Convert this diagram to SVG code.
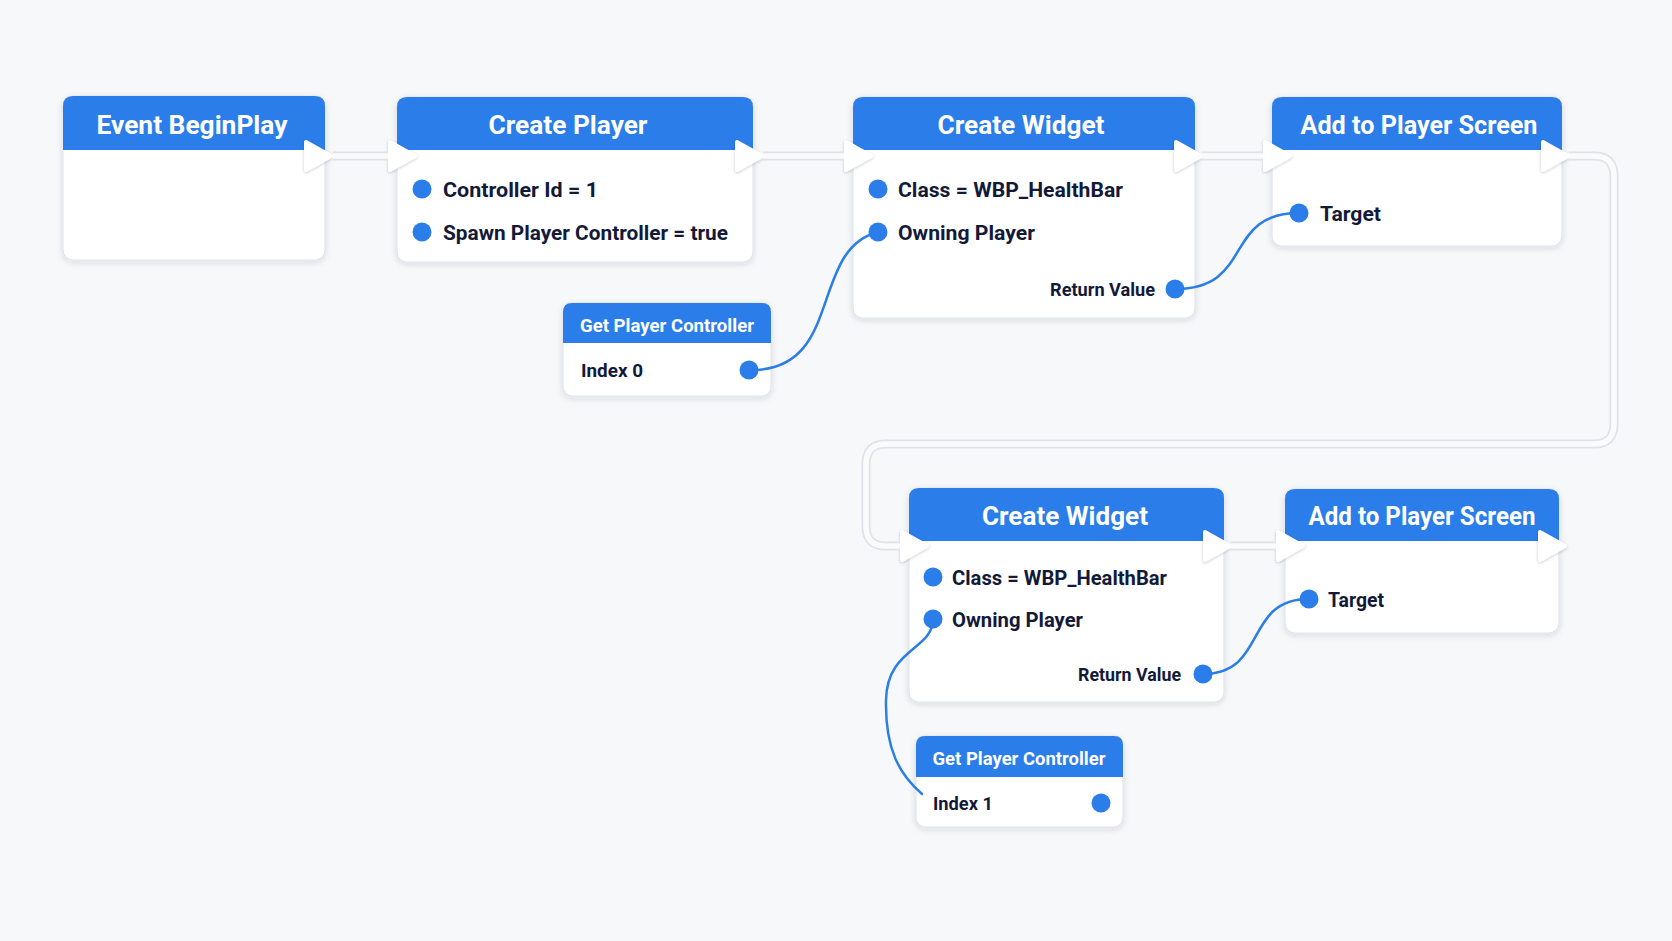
<svg xmlns="http://www.w3.org/2000/svg" xmlns:xlink="http://www.w3.org/1999/xlink" width="1672" height="941" viewBox="0 0 1672 941">
<style>
.body{fill:#ffffff;stroke:#e1e4ea;stroke-width:1.2}
.head{fill:#2b7de9}
.title{font-family:Roboto,"Liberation Sans",sans-serif;font-weight:700;fill:#ffffff;text-anchor:middle}
.t1{font-size:26px}
.t2{font-size:19px}
.lbl{font-family:Roboto,"Liberation Sans",sans-serif;font-weight:700;fill:#131a38;font-size:20.5px}
.sm{font-size:18.5px}
.pin{fill:#2b7de9}
.exec{fill:#ffffff;stroke:#ffffff;stroke-width:4;stroke-linejoin:round}
.wire{fill:none;stroke:#2b7de9;stroke-width:2.5;stroke-linecap:round}
.eo{fill:none;stroke:#dfe2e8;stroke-width:9;stroke-linecap:butt;stroke-linejoin:round}
.ei{fill:none;stroke:#fbfbfc;stroke-width:5.5;stroke-linecap:butt;stroke-linejoin:round}
</style>
<defs>
<filter id="sh" x="-10%" y="-10%" width="120%" height="130%">
<feDropShadow dx="0" dy="2" stdDeviation="3" flood-color="#1b2a4a" flood-opacity="0.13"/>
</filter>
<filter id="tsh" x="-40%" y="-40%" width="180%" height="180%">
<feDropShadow dx="0" dy="1" stdDeviation="1.5" flood-color="#1b2a4a" flood-opacity="0.22"/>
</filter>
<path id="ex" d="M0,-14 L25,0 L0,14 Z"/>
</defs>
<rect x="0" y="0" width="1672" height="941" fill="#f7f8fa"/>

<g id="node-event-beginplay">
<rect class="body" x="63" y="96" width="262" height="164" rx="10" filter="url(#sh)"/>
<path class="head" d="M63,150 V106 Q63,96 73,96 H315 Q325,96 325,106 V150 Z"/>
<text class="title t1" x="192" y="133.5" textLength="191" lengthAdjust="spacingAndGlyphs">Event BeginPlay</text>
<use href="#ex" class="exec" x="306" y="156" filter="url(#tsh)"/>
</g>

<g id="node-create-player">
<rect class="body" x="397" y="97" width="356" height="165" rx="10" filter="url(#sh)"/>
<path class="head" d="M397,150 V107 Q397,97 407,97 H743 Q753,97 753,107 V150 Z"/>
<text class="title t1" x="568" y="134" textLength="159" lengthAdjust="spacingAndGlyphs">Create Player</text>
<use href="#ex" class="exec" x="390" y="156" filter="url(#tsh)"/>
<use href="#ex" class="exec" x="737" y="156" filter="url(#tsh)"/>
<circle class="pin" cx="422" cy="189" r="9.5"/>
<text class="lbl" x="443" y="197" textLength="155" lengthAdjust="spacingAndGlyphs">Controller Id = 1</text>
<circle class="pin" cx="422" cy="232" r="9.5"/>
<text class="lbl" x="443" y="240" textLength="285" lengthAdjust="spacingAndGlyphs">Spawn Player Controller = true</text>
</g>

<g id="node-create-widget-1">
<rect class="body" x="853" y="97" width="342" height="221" rx="10" filter="url(#sh)"/>
<path class="head" d="M853,150 V107 Q853,97 863,97 H1185 Q1195,97 1195,107 V150 Z"/>
<text class="title t1" x="1021" y="134" textLength="167" lengthAdjust="spacingAndGlyphs">Create Widget</text>
<use href="#ex" class="exec" x="846" y="156" filter="url(#tsh)"/>
<use href="#ex" class="exec" x="1176" y="156" filter="url(#tsh)"/>
<circle class="pin" cx="878" cy="189" r="9.5"/>
<text class="lbl" x="898" y="197" textLength="225" lengthAdjust="spacingAndGlyphs">Class = WBP_HealthBar</text>
<circle class="pin" cx="878" cy="232" r="9.5"/>
<text class="lbl" x="898" y="240" textLength="137" lengthAdjust="spacingAndGlyphs">Owning Player</text>
<text class="lbl sm" x="1155" y="296" text-anchor="end" textLength="105" lengthAdjust="spacingAndGlyphs">Return Value</text>
<circle class="pin" cx="1175" cy="289" r="9.5"/>
</g>

<g id="node-add-to-player-screen-1">
<rect class="body" x="1272" y="97" width="290" height="149" rx="10" filter="url(#sh)"/>
<path class="head" d="M1272,150 V107 Q1272,97 1282,97 H1552 Q1562,97 1562,107 V150 Z"/>
<text class="title t1" x="1419" y="134" textLength="237" lengthAdjust="spacingAndGlyphs">Add to Player Screen</text>
<use href="#ex" class="exec" x="1265" y="156" filter="url(#tsh)"/>
<use href="#ex" class="exec" x="1543" y="156" filter="url(#tsh)"/>
<circle class="pin" cx="1299" cy="213" r="9.5"/>
<text class="lbl" x="1320" y="221" textLength="61" lengthAdjust="spacingAndGlyphs">Target</text>
</g>

<g id="node-get-player-controller-0">
<rect class="body" x="563" y="303" width="208" height="93" rx="9" filter="url(#sh)"/>
<path class="head" d="M563,343 V312 Q563,303 572,303 H762 Q771,303 771,312 V343 Z"/>
<text class="title t2" x="667" y="332" textLength="174" lengthAdjust="spacingAndGlyphs">Get Player Controller</text>
<text class="lbl sm" x="581" y="377" textLength="62" lengthAdjust="spacingAndGlyphs">Index 0</text>
<circle class="pin" cx="749" cy="370" r="9.5"/>
</g>

<g id="node-create-widget-2">
<rect class="body" x="909" y="488" width="315" height="214" rx="10" filter="url(#sh)"/>
<path class="head" d="M909,541 V498 Q909,488 919,488 H1214 Q1224,488 1224,498 V541 Z"/>
<text class="title t1" x="1065" y="525" textLength="166" lengthAdjust="spacingAndGlyphs">Create Widget</text>
<use href="#ex" class="exec" x="902" y="546" filter="url(#tsh)"/>
<use href="#ex" class="exec" x="1205" y="546" filter="url(#tsh)"/>
<circle class="pin" cx="933" cy="577" r="9.5"/>
<text class="lbl" x="952" y="585" textLength="215" lengthAdjust="spacingAndGlyphs">Class = WBP_HealthBar</text>
<circle class="pin" cx="933" cy="619" r="9.5"/>
<text class="lbl" x="952" y="627" textLength="131" lengthAdjust="spacingAndGlyphs">Owning Player</text>
<text class="lbl sm" x="1181" y="681" text-anchor="end" textLength="103" lengthAdjust="spacingAndGlyphs">Return Value</text>
<circle class="pin" cx="1203" cy="674" r="9.5"/>
</g>

<g id="node-add-to-player-screen-2">
<rect class="body" x="1285" y="489" width="274" height="144" rx="10" filter="url(#sh)"/>
<path class="head" d="M1285,541 V499 Q1285,489 1295,489 H1549 Q1559,489 1559,499 V541 Z"/>
<text class="title t1" x="1422" y="525" textLength="227" lengthAdjust="spacingAndGlyphs">Add to Player Screen</text>
<use href="#ex" class="exec" x="1278" y="546" filter="url(#tsh)"/>
<use href="#ex" class="exec" x="1540" y="546" filter="url(#tsh)"/>
<circle class="pin" cx="1309" cy="599" r="9.5"/>
<text class="lbl" x="1328" y="607" textLength="56" lengthAdjust="spacingAndGlyphs">Target</text>
</g>

<g id="node-get-player-controller-1">
<rect class="body" x="916" y="736" width="207" height="91" rx="9" filter="url(#sh)"/>
<path class="head" d="M916,777 V745 Q916,736 925,736 H1114 Q1123,736 1123,745 V777 Z"/>
<text class="title t2" x="1019" y="765" textLength="173" lengthAdjust="spacingAndGlyphs">Get Player Controller</text>
<text class="lbl sm" x="933" y="810" textLength="60" lengthAdjust="spacingAndGlyphs">Index 1</text>
<circle class="pin" cx="1101" cy="803" r="9.5"/>
</g>

<g id="connectors">
<path class="eo" d="M333,156 H388"/>
<path class="ei" d="M333,156 H388"/>
<path class="eo" d="M763,156 H844"/>
<path class="ei" d="M763,156 H844"/>
<path class="eo" d="M1202,156 H1263"/>
<path class="ei" d="M1202,156 H1263"/>
<path class="eo" d="M1231,546 H1276"/>
<path class="ei" d="M1231,546 H1276"/>
<path class="eo" d="M1569,156 H1594 Q1614,156 1614,176 V424 Q1614,444 1594,444 H886 Q866,444 866,464 V526 Q866,546 886,546 H900"/>
<path class="ei" d="M1569,156 H1594 Q1614,156 1614,176 V424 Q1614,444 1594,444 H886 Q866,444 866,464 V526 Q866,546 886,546 H900"/>
<path class="wire" d="M749,370 C845,372 808,250 878,232"/>
<path class="wire" d="M1175,289 C1255,289 1222,213 1299,213"/>
<path class="wire" d="M1203,674 C1268,674 1243,599 1309,599"/>
<path class="wire" d="M933,619 C933,650 887,648 886,700 C885,750 900,775 922,794"/>
</g>
</svg>
